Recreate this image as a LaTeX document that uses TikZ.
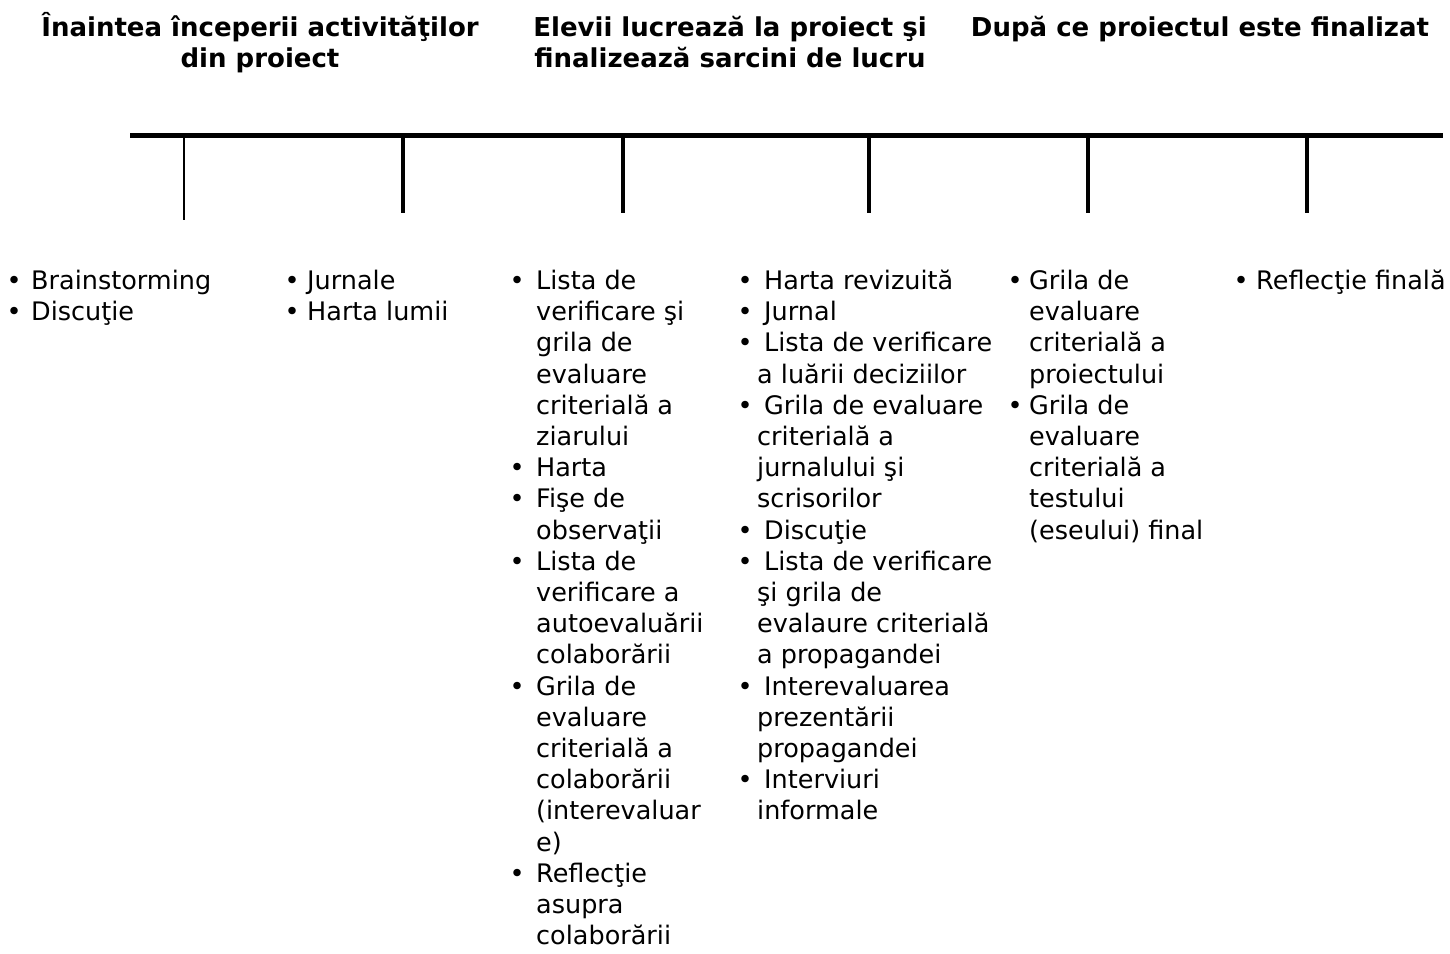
\documentclass[tikz,border=0pt]{standalone}
\usepackage{fontspec}
\setmainfont{DejaVu Sans}
\newcommand{\tlbul}[1]{\llap{\textbullet\hspace{#1}}}

\begin{document}
\begin{tikzpicture}[x=1pt,y=-1pt]
        \tikzset{
        tl head/.style={font={\fontsize{26}{31.5}\selectfont\bfseries},align=center,anchor=base,inner sep=0},
        tl list/.style={font={\fontsize{25.5}{31.2}\selectfont},align=left,anchor=base west,inner sep=0},
        tl edge/.style={line width=3.5pt}
        }
        \useasboundingbox (0,0) rectangle (1450,953);

        % headings (anchor = baseline of last line)
        \node[tl head] (h1) at (260,67.5) {Înaintea începerii activităţilor\\din proiect};
        \node[tl head] (h2) at (730,67.5) {Elevii lucrează la proiect şi\\finalizează sarcini de lucru};
        \node[tl head] (h3) at (1200,36) {După ce proiectul este finalizat};

        % timeline
        \coordinate (L) at (130,135);
        \coordinate (R) at (1443,135);
        \coordinate (t1) at (184,135);  \coordinate (b1) at (184,220);
        \coordinate (t2) at (403,135);  \coordinate (b2) at (403,213);
        \coordinate (t3) at (623,135);  \coordinate (b3) at (623,213);
        \coordinate (t4) at (869,135);  \coordinate (b4) at (869,213);
        \coordinate (t5) at (1088,135); \coordinate (b5) at (1088,213);
        \coordinate (t6) at (1307,135); \coordinate (b6) at (1307,213);

        \draw[line width=5pt] (L) -- (R);
        \path[-,draw]
        (t1) edge[line width=2pt] (b1)
        (t2) edge[tl edge] (b2)
        (t3) edge[tl edge] (b3)
        (t4) edge[tl edge] (b4)
        (t5) edge[tl edge] (b5)
        (t6) edge[tl edge] (b6)
        ;

        % lists (anchor = baseline of last line, 31.2 per line from 289.5)
        \node[tl list] (c1) at (31,320.7) {\tlbul{9.5pt}Brainstorming\\\tlbul{9.5pt}Discuţie};
        \node[tl list] (c2) at (307,320.7) {\tlbul{7.5pt}Jurnale\\\tlbul{7.5pt}Harta lumii};
        \node[tl list] (c3) at (536,944.7) {\tlbul{11.5pt}Lista de\\verificare şi\\grila de\\evaluare\\criterială a\\ziarului\\
          \tlbul{11.5pt}Harta\\\tlbul{11.5pt}Fişe de\\observaţii\\\tlbul{11.5pt}Lista de\\verificare a\\autoevaluării\\colaborării\\
          \tlbul{11.5pt}Grila de\\evaluare\\criterială a\\colaborării\\(interevaluar\\e)\\\tlbul{11.5pt}Reflecţie\\asupra\\colaborării};
        \node[tl list] (c4) at (757,819.9) {\tlbul{4.5pt}\hspace{7pt}Harta revizuită\\\tlbul{4.5pt}\hspace{7pt}Jurnal\\
          \tlbul{4.5pt}\hspace{7pt}Lista de verificare\\a luării deciziilor\\\tlbul{4.5pt}\hspace{7pt}Grila de evaluare\\criterială a\\jurnalului şi\\scrisorilor\\
          \tlbul{4.5pt}\hspace{7pt}Discuţie\\\tlbul{4.5pt}\hspace{7pt}Lista de verificare\\şi grila de\\evalaure criterială\\a propagandei\\
          \tlbul{4.5pt}\hspace{7pt}Interevaluarea\\prezentării\\propagandei\\\tlbul{4.5pt}\hspace{7pt}Interviuri\\informale};
        \node[tl list] (c5) at (1029,539.1) {\tlbul{6.5pt}Grila de\\evaluare\\criterială a\\proiectului\\\tlbul{6.5pt}Grila de\\evaluare\\criterială a\\testului\\(eseului) final};
        \node[tl list] (c6) at (1256,289.5) {\tlbul{7.5pt}Reflecţie finală};
    \end{tikzpicture}
\end{document}
